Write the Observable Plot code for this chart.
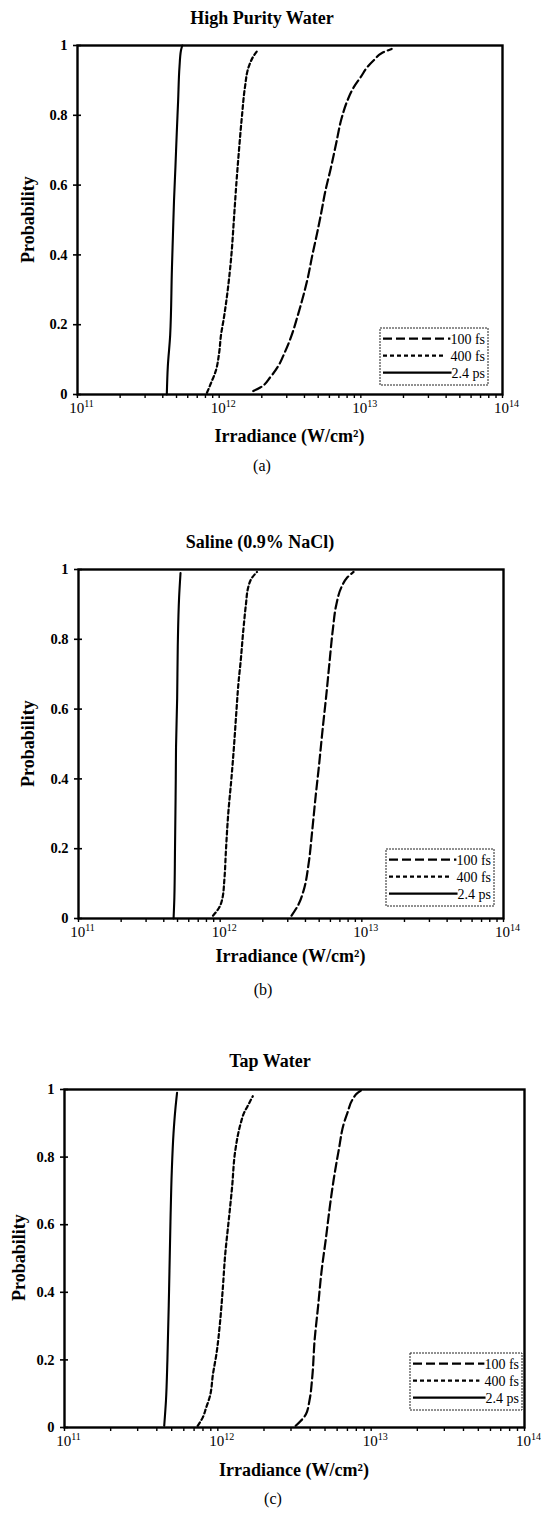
<!DOCTYPE html>
<html><head><meta charset="utf-8">
<script src="https://cdn.jsdelivr.net/npm/d3@7"></script>
<script src="https://cdn.jsdelivr.net/npm/@observablehq/plot@0.6"></script>
<style>
body{margin:0;background:#fff;}
#page{position:relative;width:541px;height:1519px;overflow:hidden;font-family:"Liberation Serif","Times New Roman",serif;color:#000;background:#fff;}
.abs{position:absolute;white-space:nowrap;line-height:1;}
.title{font-weight:bold;font-size:18px;}
.xtitle{font-weight:bold;font-size:18px;}
.ytitle{font-weight:bold;font-size:18px;transform-origin:0 0;}
.tag{font-size:16px;}
svg.plot{position:absolute;left:0;}
</style></head><body><div id="page"></div>
<script>
// ---------- data ----------
const panelTitles = ["High Purity Water", "Saline (0.9% NaCl)", "Tap Water"];
const panelTags = ["(a)", "(b)", "(c)"];
const seriesNames = ["100 fs", "400 fs", "2.4 ps"];
const xTitle = "Irradiance (W/cm²)";
const yTitle = "Probability";
const yTicks = [0, 0.2, 0.4, 0.6, 0.8, 1];
const yTickLabels = ["0", "0.2", "0.4", "0.6", "0.8", "1"];
const xDecades = [1e11, 1e12, 1e13, 1e14];
const xDecadeBase = ["10", "10", "10", "10"];
const xDecadeExp = ["11", "12", "13", "14"];

// (a) High purity water
const a100P = [0.01, 0.02, 0.05, 0.08, 0.12, 0.17, 0.22, 0.27, 0.33, 0.4, 0.46, 0.52, 0.58, 0.65, 0.72, 0.79, 0.84, 0.88, 0.91, 0.94, 0.96, 0.978, 0.99];
const a100I = [1.74e12, 1.95e12, 2.3e12, 2.6e12, 2.9e12, 3.25e12, 3.55e12, 3.85e12, 4.2e12, 4.55e12, 4.9e12, 5.25e12, 5.6e12, 6.15e12, 6.7e12, 7.3e12, 8.0e12, 8.9e12, 1.0e13, 1.12e13, 1.25e13, 1.4e13, 1.65e13];
const a400P = [0.005, 0.03, 0.07, 0.12, 0.17, 0.22, 0.3, 0.4, 0.5, 0.6, 0.7, 0.8, 0.88, 0.94, 0.97, 0.985];
const a400I = [8.2e11, 8.7e11, 9.5e11, 1.0e12, 1.03e12, 1.08e12, 1.15e12, 1.22e12, 1.27e12, 1.32e12, 1.38e12, 1.45e12, 1.52e12, 1.62e12, 1.75e12, 1.86e12];
const a24P = [0, 0.08, 0.17, 0.36, 0.46, 0.555, 0.65, 0.75, 0.84, 0.94, 0.985, 1.0];
const a24I = [4.27e11, 4.34e11, 4.51e11, 4.64e11, 4.72e11, 4.80e11, 4.91e11, 5.02e11, 5.13e11, 5.25e11, 5.37e11, 5.49e11];

// (b) Saline
const b100P = [0.008, 0.04, 0.08, 0.16, 0.25, 0.35, 0.44, 0.54, 0.63, 0.73, 0.83, 0.9, 0.95, 0.975, 0.993];
const b100I = [3.19e12, 3.57e12, 3.88e12, 4.22e12, 4.46e12, 4.72e12, 4.99e12, 5.28e12, 5.58e12, 5.9e12, 6.25e12, 6.61e12, 7.19e12, 7.81e12, 8.74e12];
const b400P = [0.008, 0.03, 0.06, 0.11, 0.2, 0.3, 0.4, 0.49, 0.59, 0.68, 0.73, 0.83, 0.9, 0.95, 0.975, 0.993];
const b400I = [8.9e11, 9.8e11, 1.04e12, 1.07e12, 1.1e12, 1.14e12, 1.2e12, 1.25e12, 1.3e12, 1.35e12, 1.39e12, 1.46e12, 1.52e12, 1.58e12, 1.67e12, 1.82e12];
const b24P = [0, 0.06, 0.2, 0.4, 0.49, 0.63, 0.78, 0.92, 0.99];
const b24I = [4.69e11, 4.75e11, 4.8e11, 4.86e11, 4.88e11, 4.97e11, 5.02e11, 5.13e11, 5.25e11];

// (c) Tap water
const c100P = [0.005, 0.02, 0.04, 0.08, 0.15, 0.26, 0.36, 0.46, 0.56, 0.66, 0.73, 0.82, 0.9, 0.93, 0.97, 0.99, 1.0];
const c100I = [3.22e12, 3.48e12, 3.76e12, 3.96e12, 4.13e12, 4.28e12, 4.51e12, 4.74e12, 5.07e12, 5.4e12, 5.68e12, 6.14e12, 6.64e12, 6.99e12, 7.55e12, 8.16e12, 8.82e12];
const c400P = [0.005, 0.03, 0.06, 0.09, 0.16, 0.22, 0.31, 0.41, 0.51, 0.61, 0.71, 0.82, 0.9, 0.93, 0.95, 0.98];
const c400I = [7.39e11, 7.98e11, 8.41e11, 8.85e11, 9.31e11, 9.81e11, 1.033e12, 1.077e12, 1.116e12, 1.176e12, 1.238e12, 1.3e12, 1.41e12, 1.48e12, 1.56e12, 1.69e12];
const c24P = [0.005, 0.08, 0.2, 0.41, 0.61, 0.76, 0.87, 0.94, 0.99];
const c24I = [4.47e11, 4.59e11, 4.69e11, 4.81e11, 4.91e11, 5.01e11, 5.14e11, 5.28e11, 5.42e11];

// ---------- styling / layout ----------
const lineStyles = [
  {dash: "9,4", width: 2.2},
  {dash: "4,3", width: 2.2},
  {dash: null, width: 2.1}
];
const FONT = '"Liberation Serif","Times New Roman",serif';
const panels = [
  {series: [[a100P, a100I], [a400P, a400I], [a24P, a24I]],
   l: 77, r: 502, t: 45, b: 394, svgTop: 30,
   titleX: 262, titleBase: 25, xTitleBase: 443, tagX: 262, tagBase: 472, yTitleX: 28,
   leg: {x: 380, y: 328, w: 108, h: 57}},
  {series: [[b100P, b100I], [b400P, b400I], [b24P, b24I]],
   l: 78, r: 503, t: 569, b: 918, svgTop: 554,
   titleX: 260, titleBase: 549, xTitleBase: 963, tagX: 263, tagBase: 996, yTitleX: 28,
   leg: {x: 386, y: 849, w: 108, h: 57}},
  {series: [[c100P, c100I], [c400P, c400I], [c24P, c24I]],
   l: 64, r: 524, t: 1089, b: 1427, svgTop: 1074,
   titleX: 270, titleBase: 1068, xTitleBase: 1477, tagX: 273, tagBase: 1505, yTitleX: 19,
   leg: {x: 410, y: 1353, w: 112, h: 57}}
];

const page = document.getElementById("page");
const W = 541;
const minorTicks = [];
for (const dec of [1e11, 1e12, 1e13]) for (let k = 1; k <= 9; k++) minorTicks.push(k * dec);
minorTicks.push(1e14);
const NS = "http://www.w3.org/2000/svg";

function addText(cls, txt, x, baseline, anchor) {
  const d = document.createElement("div");
  d.className = "abs " + cls;
  d.textContent = txt;
  page.appendChild(d);
  const fs = parseFloat(getComputedStyle(d).fontSize);
  d.style.top = (baseline - fs * 0.891) + "px";
  const w = d.getBoundingClientRect().width;
  d.style.left = (anchor === "middle" ? x - w / 2 : x) + "px";
  return d;
}

panels.forEach((P, pi) => {
  const H = P.b - P.svgTop + 40;
  const lineMarks = P.series.map(([ps, is], si) => {
    const data = ps.map((p, j) => ({p, I: is[j]}));
    return Plot.line(data, {x: "I", y: "p", curve: "monotone-y", stroke: "#000",
      strokeWidth: lineStyles[si].width, strokeDasharray: lineStyles[si].dash});
  });
  const svg = Plot.plot({
    width: W, height: H,
    marginLeft: P.l, marginRight: W - P.r,
    marginTop: P.t - P.svgTop, marginBottom: H - (P.b - P.svgTop),
    x: {type: "log", domain: [1e11, 1e14]},
    y: {domain: [0, 1]},
    style: {fontFamily: FONT, background: "transparent", color: "#000", overflow: "visible"},
    marks: [
      ...lineMarks,
      Plot.axisX({ticks: minorTicks, tickSize: 4, tickFormat: () => "", label: null, stroke: "#000", strokeWidth: 1.4}),
      Plot.axisX({ticks: xDecades, tickSize: 0, tickPadding: 8, dx: 4, label: null, fontSize: 15,
        tickFormat: (d) => { const i = xDecades.indexOf(d); return xDecadeBase[i] + "^" + xDecadeExp[i]; }}),
      Plot.axisY({ticks: yTicks, tickSize: 8, dx: 4, tickFormat: () => "", label: null, stroke: "#000", strokeWidth: 1.6}),
      Plot.axisY({ticks: yTicks, tickSize: 0, tickPadding: 10, label: null, fontSize: 14.5, fontWeight: "bold",
        tickFormat: (d) => yTickLabels[yTicks.indexOf(d)]}),
      Plot.frame({stroke: "#000", strokeWidth: 2.4})
    ]
  });
  svg.classList.add("plot");
  svg.style.top = P.svgTop + "px";
  svg.querySelectorAll('[aria-label="x-axis tick label"] text').forEach(t => {
    const [base, exp] = t.textContent.split("^");
    t.textContent = "";
    const t1 = document.createElementNS(NS, "tspan"); t1.textContent = base;
    const t2 = document.createElementNS(NS, "tspan"); t2.textContent = exp;
    t2.setAttribute("font-size", "10"); t2.setAttribute("dy", "-6");
    t.appendChild(t1); t.appendChild(t2);
  });
  page.appendChild(svg);

  addText("title", panelTitles[pi], P.titleX, P.titleBase, "middle");
  addText("xtitle", xTitle, (P.l + P.r) / 2, P.xTitleBase, "middle");
  addText("tag", panelTags[pi], P.tagX, P.tagBase, "middle");
  const yt = document.createElement("div");
  yt.className = "abs ytitle";
  yt.textContent = yTitle;
  page.appendChild(yt);
  const yw = yt.getBoundingClientRect().width;
  const cy = (P.t + P.b) / 2;
  yt.style.left = (P.yTitleX - 18 * 0.5) + "px";
  yt.style.top = (cy + yw / 2) + "px";
  yt.style.transform = "rotate(-90deg)";

  // legend box
  const L = P.leg;
  const lg = document.createElementNS(NS, "svg");
  lg.setAttribute("width", L.w + 2); lg.setAttribute("height", L.h + 2);
  lg.style.position = "absolute"; lg.style.left = (L.x - 1) + "px"; lg.style.top = (L.y - 1) + "px";
  lg.style.overflow = "visible";
  const rect = document.createElementNS(NS, "rect");
  rect.setAttribute("x", 1); rect.setAttribute("y", 1); rect.setAttribute("width", L.w); rect.setAttribute("height", L.h);
  rect.setAttribute("fill", "#fff"); rect.setAttribute("stroke", "#222"); rect.setAttribute("stroke-width", 1);
  rect.setAttribute("stroke-dasharray", "2,1");
  lg.appendChild(rect);
  page.appendChild(lg);
  const rowH = (L.h - 6) / 3;
  seriesNames.forEach((name, si) => {
    const yLine = 1 + 3 + rowH * (si + 0.45);
    const tx = document.createElementNS(NS, "text");
    tx.setAttribute("x", L.w - 2); tx.setAttribute("y", yLine + 5);
    tx.setAttribute("text-anchor", "end");
    tx.setAttribute("font-family", FONT); tx.setAttribute("font-size", 14);
    tx.textContent = name;
    lg.appendChild(tx);
    const tw = tx.getComputedTextLength();
    const ln = document.createElementNS(NS, "line");
    ln.setAttribute("x1", 4); ln.setAttribute("x2", L.w - 2 - tw - (si === 1 ? 5 : 0));
    ln.setAttribute("y1", yLine); ln.setAttribute("y2", yLine);
    ln.setAttribute("stroke", "#000"); ln.setAttribute("stroke-width", lineStyles[si].width);
    if (lineStyles[si].dash) ln.setAttribute("stroke-dasharray", lineStyles[si].dash);
    lg.insertBefore(ln, tx);
  });
});
</script>
</body></html>
